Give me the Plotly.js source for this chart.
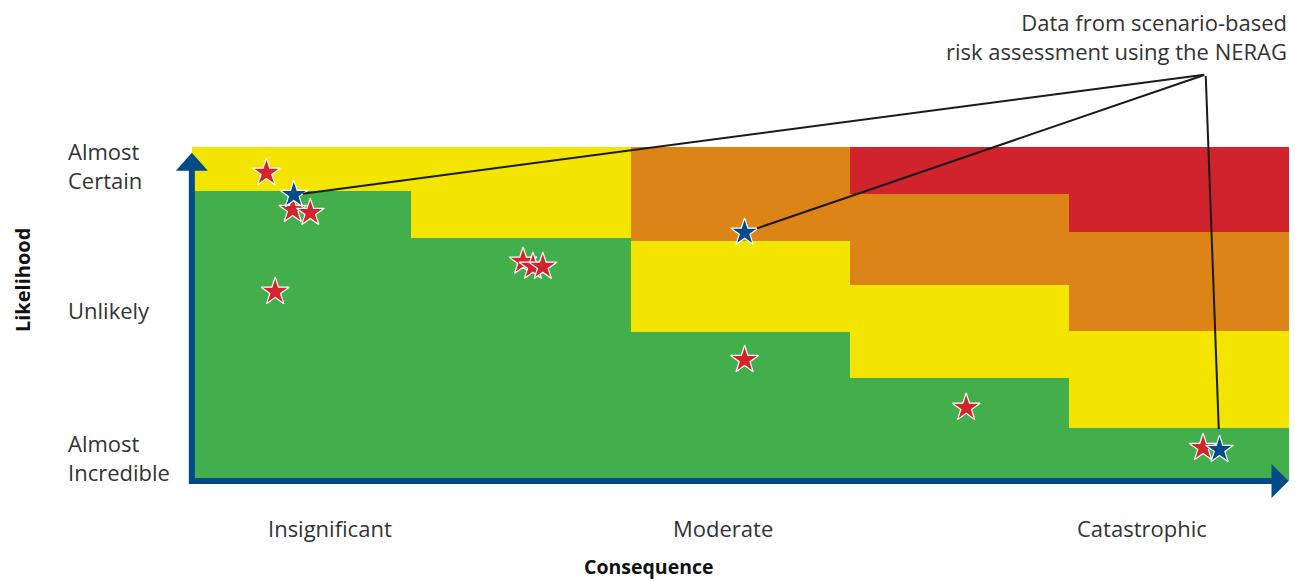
<!DOCTYPE html>
<html><head><meta charset="utf-8">
<script src="https://cdn.plot.ly/plotly-3.0.1.min.js"></script>
<style>html,body{margin:0;padding:0;background:#fff}#chart{width:1295px;height:582px}</style>
</head><body><div id="chart"></div>
<script>
// Risk matrix columns (consequence) and stacked bands (likelihood units)
const columns = [0.5, 1.5, 2.5, 3.5, 4.5];
const greenBand = [8.68, 7.28, 4.46, 3.08, 1.59];
const yellowBand = [1.32, 2.72, 2.73, 2.79, 2.90];
const orangeBand = [0, 0, 2.81, 2.72, 2.97];
const redBand = [0, 0, 0, 1.41, 2.54];

// Risk points
const redX = [0.34, 0.46, 0.54, 0.38, 1.51, 1.555, 1.60, 2.52, 3.53, 4.61];
const redY = [9.22, 8.11, 8.02, 5.66, 6.56, 6.41, 6.41, 3.62, 2.19, 0.99];
const blueX = [0.465, 2.52, 4.685];
const blueY = [8.56, 7.43, 0.93];

// Labels
const consequenceLabels = ['Insignificant', 'Moderate', 'Catastrophic'];
const consequencePos = [0.63, 2.42, 4.33];
const likelihoodLabels = ['Almost<br>Certain', 'Unlikely', 'Almost<br>Incredible'];
const likelihoodPos = [9.43, 5.12, 0.69];
const noteText = 'Data from scenario-based<br>risk assessment using the NERAG';

const FONT = '"Open Sans", "Noto Sans", sans-serif';
const TXT = '#333333';
const AXIS = '#004b87';

function band(y, color, name) {
  return {type: 'bar', x: columns, y: y, width: 1, name: name,
    marker: {color: color, line: {width: 0}},
    hoverinfo: 'skip', showlegend: false};
}

const traces = [
  band(greenBand, '#42ae4c', 'Low'),
  band(yellowBand, '#f3e500', 'Medium'),
  band(orangeBand, '#dd8418', 'High'),
  band(redBand, '#d0232c', 'Extreme'),
  {type: 'scatter', mode: 'markers', x: redX, y: redY, name: 'Risk',
   marker: {symbol: 'star', size: 21, color: '#d5232e', line: {color: '#ffffff', width: 1.2}},
   hoverinfo: 'skip', showlegend: false, cliponaxis: false},
  {type: 'scatter', mode: 'markers', x: blueX, y: blueY, name: 'NERAG',
   marker: {symbol: 'star', size: 21, color: '#024b8a', line: {color: '#ffffff', width: 1.2}},
   hoverinfo: 'skip', showlegend: false, cliponaxis: false}
];

const annotations = [];
consequenceLabels.forEach((t, i) => annotations.push({
  text: t, x: consequencePos[i], xref: 'x', y: -0.0748, yref: 'paper',
  xanchor: 'center', yanchor: 'middle', showarrow: false,
  font: {family: FONT, size: 22, color: TXT}}));
likelihoodLabels.forEach((t, i) => annotations.push({
  text: t, x: -0.0614, xref: 'paper', y: likelihoodPos[i], yref: 'y',
  xanchor: 'left', yanchor: 'middle', align: 'left', showarrow: false,
  font: {family: FONT, size: 22, color: TXT}}));
annotations.push({text: '<b>Consequence</b>', x: 0.4429, xref: 'paper', y: -0.182, yref: 'paper',
  xanchor: 'center', yanchor: 'middle', showarrow: false, font: {family: FONT, size: 19.5, color: '#111'}});
annotations.push({text: '<b>Likelihood</b>', x: -0.0995, xref: 'paper', y: 0.612, yref: 'paper',
  textangle: -90, xanchor: 'center', yanchor: 'middle', showarrow: false, font: {family: FONT, size: 20, color: '#111'}});
annotations.push({text: noteText, x: 5.0, xref: 'x', y: 1.287, yref: 'paper',
  xanchor: 'right', yanchor: 'middle', align: 'right', showarrow: false, font: {family: FONT, size: 22, color: TXT}});
const standoffs = [9, 13, 21];
blueX.forEach((bx, i) => annotations.push({
  text: '', x: bx, y: blueY[i], xref: 'x', yref: 'y',
  ax: 4.622, ay: 12.16, axref: 'x', ayref: 'y',
  showarrow: true, arrowhead: 0, arrowwidth: 2, arrowcolor: '#1a1a1a', standoff: standoffs[i]}));

const shapes = [
  {type: 'line', xref: 'x', yref: 'y', x0: 0, x1: 0, y0: -0.09, y1: 9.33, line: {color: AXIS, width: 6}},
  {type: 'path', xref: 'x', yref: 'y', path: 'M -0.073 9.28 L 0 9.82 L 0.073 9.28 Z', fillcolor: AXIS, line: {width: 0}},
  {type: 'line', xref: 'x', yref: 'y', x0: -0.013, x1: 4.93, y0: 0, y1: 0, line: {color: AXIS, width: 6}},
  {type: 'path', xref: 'x', yref: 'y', path: 'M 4.922 -0.51 L 5.0 0 L 4.922 0.51 Z', fillcolor: AXIS, line: {width: 0}}
];

const layout = {
  width: 1295, height: 582,
  margin: {l: 137, r: 2, t: 140, b: 81},
  paper_bgcolor: '#ffffff', plot_bgcolor: '#ffffff',
  barmode: 'stack', bargap: 0,
  xaxis: {range: [-0.25, 5.02], showgrid: false, zeroline: false, showticklabels: false, ticks: '', fixedrange: true},
  yaxis: {range: [-0.6, 10.2], showgrid: false, zeroline: false, showticklabels: false, ticks: '', fixedrange: true},
  annotations: annotations, shapes: shapes, showlegend: false
};

Plotly.newPlot('chart', traces, layout, {displayModeBar: false, staticPlot: true});
</script></body></html>
